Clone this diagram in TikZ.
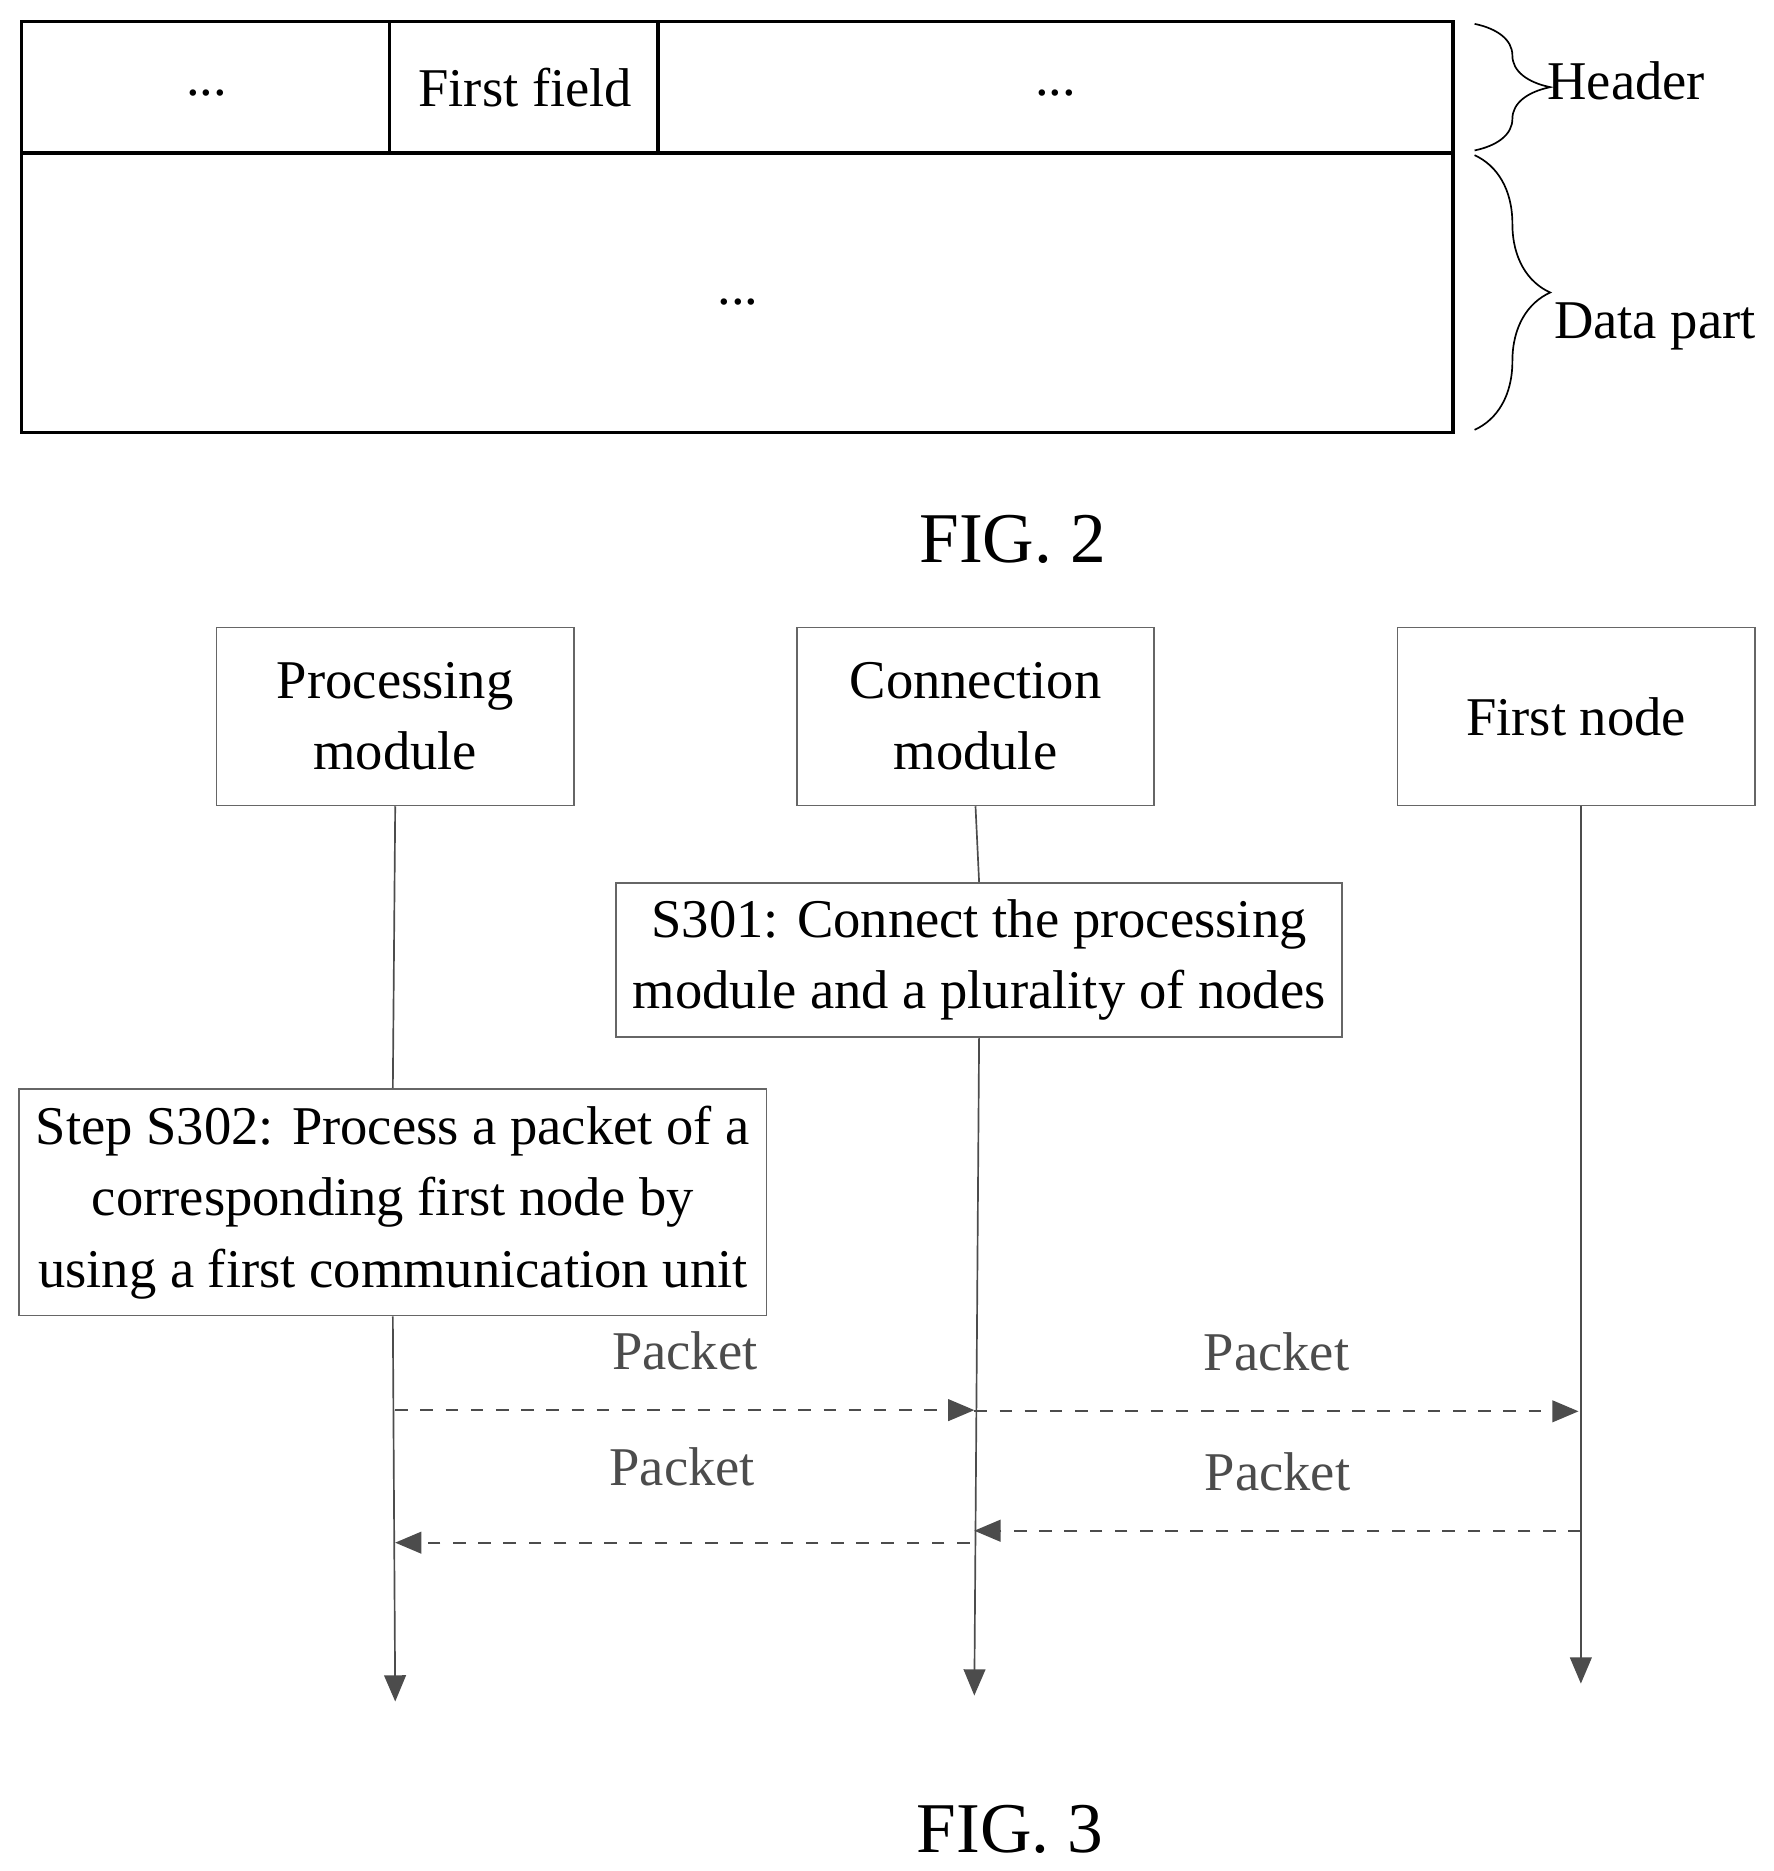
\documentclass[tikz,border=0pt]{standalone}
\usepackage{fontspec}
\setmainfont{Liberation Serif}
\usetikzlibrary{arrows,positioning,decorations.pathreplacing}
\begin{document}
\begin{tikzpicture}[x=0.01cm,y=-0.01cm,font=\fontsize{13}{17}\selectfont]
\tikzstyle{module}=[draw=black!60,thin,minimum width=2.99cm,minimum height=1.49cm,align=center,inner sep=2pt]
\tikzstyle{stepbox}=[draw=black!60,thin,align=center,inner sep=4pt]
\tikzstyle{life}=[black!70,thin,-triangle 45]
\tikzstyle{msg}=[black!70,thin,dashed,-triangle 45]
\useasboundingbox (0,0) rectangle (1485,1567);
% FIG. 2
\draw[thick] (18,18) rectangle (1217,362);
\draw[thick] (18,128) -- (1217,128);
\draw[thick] (326,18) -- (326,128);
\draw[thick] (551,18) -- (551,128);
\node (dots1) at (173,78) {...};
\node (field) at (440,73) {First field};
\node (dots2) at (884,78) {...};
\node (dots3) at (618,253) {...};
\draw[decorate,decoration={brace,amplitude=18pt}] (1235,20) -- (1235,126);
\draw[decorate,decoration={brace,amplitude=18pt}] (1235,130) -- (1235,360);
\node (header) at (1362,68) {Header};
\node (data) at (1386,273) {Data part};
\node[font=\fontsize{17}{20}\selectfont] (fig2) at (848,452) {FIG. 2};
% FIG. 3
\node[module] (proc) at (331,600) {Processing\\module};
\node[module] (conn) at (817,600) {Connection\\module};
\node[module] (first) at (1320,600) {First node};
\node[stepbox] (s301) at (820,804) {S301: Connect the processing\\module and a plurality of nodes};
\node[stepbox] (s302) at (329,1007) {Step S302: Process a packet of a\\corresponding first node by\\using a first communication unit};
\coordinate (pend) at (331,1425);
\coordinate (cend) at (816,1420);
\coordinate (fend) at (1324,1410);
\draw[black!70,thin] (proc.south) -- (s302.north);
\draw[life] (s302.south) -- (pend);
\draw[black!70,thin] (conn.south) -- (s301.north);
\draw[life] (s301.south) -- (cend);
\draw[life] (first.south -| fend) -- (fend);
\coordinate (m1a) at (331,1181); \coordinate (m1b) at (816,1181);
\coordinate (m2a) at (816,1182); \coordinate (m2b) at (1322,1182);
\coordinate (m3a) at (1324,1282); \coordinate (m3b) at (816,1282);
\coordinate (m4a) at (812,1292); \coordinate (m4b) at (331,1292);
\draw[msg] (m1a) -- node[above=6pt] {Packet} (m1b);
\draw[msg] (m2a) -- node[above=6pt] {Packet} (m2b);
\draw[msg] (m3a) -- node[above=6pt] {Packet} (m3b);
\draw[msg] (m4a) -- node[above=10pt] {Packet} (m4b);
\node[font=\fontsize{17}{20}\selectfont] (fig3) at (846,1532) {FIG. 3};
\end{tikzpicture}
\end{document}
